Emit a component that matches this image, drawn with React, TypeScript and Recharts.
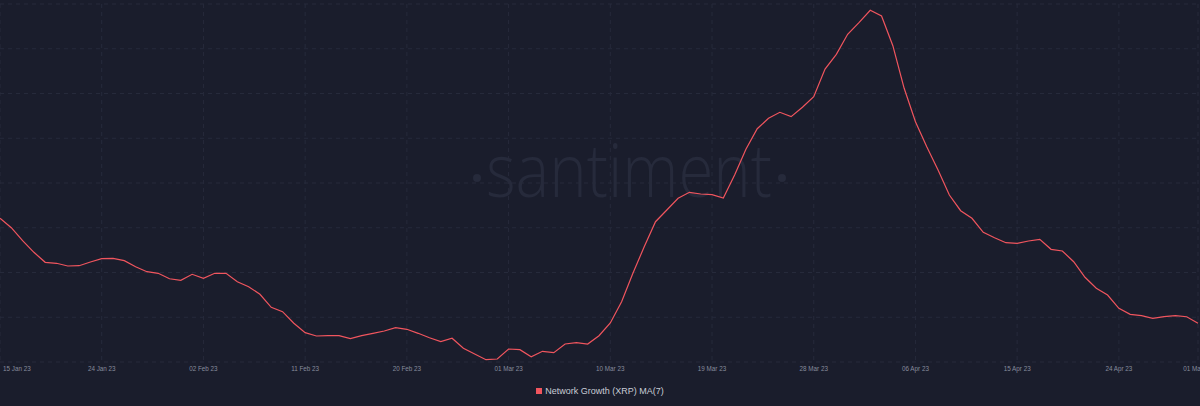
import React from "react";
import { LineChart, Line, XAxis, YAxis, CartesianGrid, Legend } from "recharts";

// Network Growth (XRP) MA(7), daily from 15 Jan 23 (day 0) to 01 May 23 (day 106)
const values: number[] = [
  3211, 3001, 2711, 2451, 2228, 2206, 2145, 2152, 2235, 2308,
  2317, 2264, 2130, 2018, 1982, 1861, 1826, 1960, 1870, 1982,
  1982, 1794, 1683, 1513, 1222, 1124, 865, 655, 581, 588,
  588, 521, 588, 641, 693, 766, 731, 641, 543, 454,
  530, 306, 179, 51, 67, 290, 275, 118, 239, 208,
  402, 431, 402, 588, 871, 1347, 1982, 2576, 3135, 3397,
  3658, 3792, 3754, 3739, 3665, 4179, 4753, 5213, 5446, 5580,
  5482, 5692, 5928, 6547, 6876, 7323, 7582, 7859, 7732, 7068,
  6116, 5370, 4811, 4290, 3732, 3381, 3211, 2898, 2778, 2666,
  2652, 2704, 2742, 2518, 2480, 2241, 1893, 1647, 1497, 1200,
  1066, 1035, 977, 1012, 1035, 1012, 865,
];

const tickDays: number[] = [0, 9, 18, 27, 36, 45, 54, 63, 72, 81, 90, 99, 106];
const tickLabels: string[] = [
  "15 Jan 23", "24 Jan 23", "02 Feb 23", "11 Feb 23", "20 Feb 23", "01 Mar 23",
  "10 Mar 23", "19 Mar 23", "28 Mar 23", "06 Apr 23", "15 Apr 23", "24 Apr 23", "01 May 23",
];
const yTicks: number[] = [0, 1000, 2000, 3000, 4000, 5000, 6000, 7000, 8000];

const seriesName = "Network Growth (XRP) MA(7)";
const LINE_COLOR = "#f0555e";
const BG = "#1a1d2c";

const data = values.map((v, i) => ({ day: i, value: v }));

const XTick = (props: any) => {
  const { x, y, payload, index } = props;
  const idx = tickDays.indexOf(payload.value);
  const label = idx >= 0 ? tickLabels[idx] : "";
  const first = index === 0;
  return (
    <text
      x={first ? x + 3 : x}
      y={y + 8.5}
      textAnchor={first ? "start" : "middle"}
      fill="#878c9c"
      fontSize={6.3}
      fontFamily="'Liberation Sans', Arial, sans-serif"
    >
      {label}
    </text>
  );
};

const LegendContent = () => (
  <div
    style={{
      height: 24,
      width: 1200,
      display: "flex",
      justifyContent: "center",
      alignItems: "flex-start",
      paddingTop: 3,
      boxSizing: "border-box",
      fontFamily: "'Liberation Sans', Arial, sans-serif",
      fontSize: 9,
      lineHeight: "12px",
      color: "#c9ccd6",
    }}
  >
    <span
      style={{
        display: "inline-block",
        width: 6,
        height: 6,
        background: LINE_COLOR,
        marginTop: 3,
        marginRight: 3,
      }}
    />
    <span>{seriesName}</span>
  </div>
);

export default function App() {
  return (
    <div
      style={{
        position: "fixed",
        left: 0,
        top: 0,
        width: 1200,
        height: 406,
        background: BG,
        overflow: "hidden",
      }}
    >
      <svg
        width={1200}
        height={406}
        style={{ position: "absolute", left: 0, top: 0 }}
      >
        <circle cx={477} cy={178} r={4} fill="#262a3b" />
        <circle cx={782} cy={178} r={4} fill="#262a3b" />
        <text
          x={486}
          y={197}
          textLength={286}
          lengthAdjust="spacingAndGlyphs"
          fontSize={74}
          fontWeight={300}
          fontFamily="'Open Sans', 'Noto Sans', sans-serif"
          fill="#262a3b"
        >
          santiment
        </text>
      </svg>
      <div style={{ position: "absolute", left: 0, top: 0 }}>
        <LineChart
          width={1200}
          height={406}
          data={data}
          margin={{ top: 4, right: 2, bottom: 0, left: 0 }}
        >
          <CartesianGrid stroke="#262a3b" strokeDasharray="4 4" />
          <XAxis
            dataKey="day"
            type="number"
            domain={[0, 106]}
            ticks={tickDays}
            interval={0}
            axisLine={false}
            tickLine={false}
            tickSize={0}
            tickMargin={0}
            height={20}
            tick={<XTick />}
          />
          <YAxis hide domain={[0, 8000]} ticks={yTicks} />
          <Legend verticalAlign="bottom" content={<LegendContent />} />
          <Line
            type="linear"
            dataKey="value"
            name={seriesName}
            stroke={LINE_COLOR}
            strokeWidth={1.2}
            dot={false}
            isAnimationActive={false}
          />
        </LineChart>
      </div>
    </div>
  );
}
